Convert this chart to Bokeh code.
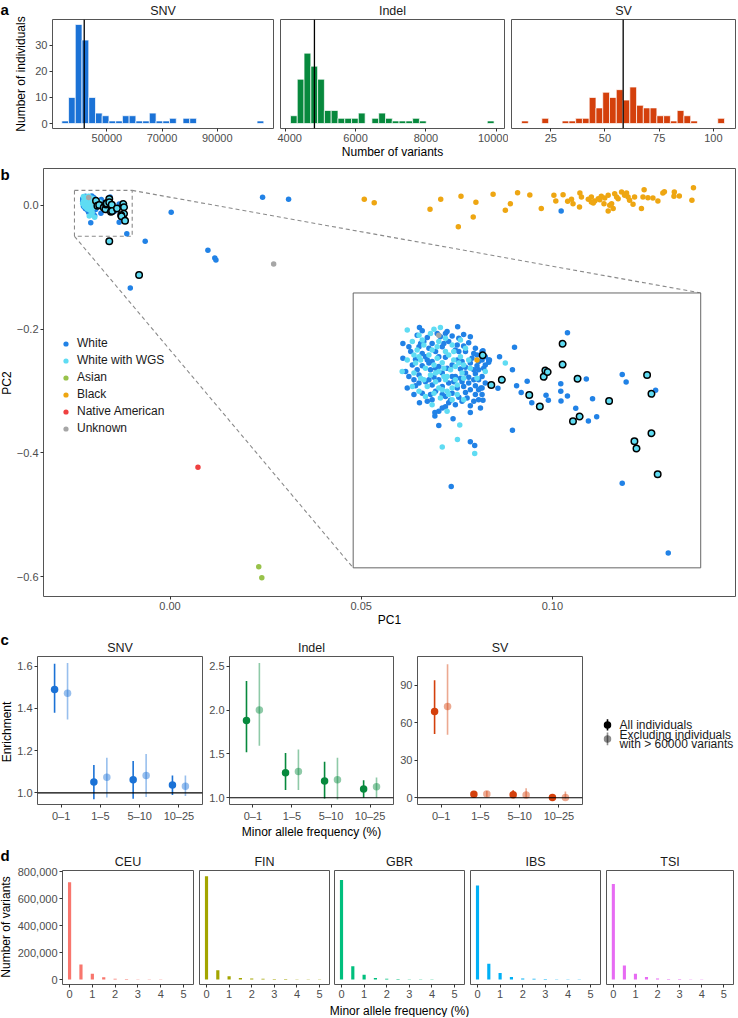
import numpy as np
from bokeh.plotting import figure
from bokeh.layouts import column, row
from bokeh.models import (Range1d, Span, FixedTicker, CustomJSTickFormatter,
                          NumeralTickFormatter, Legend, LegendItem, Div)
from bokeh.core.properties import value
from bokeh.embed import file_html
from bokeh.resources import INLINE

FONT = "Liberation Sans"

# ---------------- panel a data (histograms) ----------------
snv_bins = [34900, 37340, 39780, 42220, 44660, 47100, 49540, 51980, 54420, 56860,
            59300, 61740, 64180, 66620, 69060, 71500, 73940, 76380, 78820, 81260,
            83700, 86140, 88580, 91020, 93460, 95900, 98340, 100780, 103220, 105660]
snv_counts = [1, 10, 38, 32, 10, 4, 3, 1, 1, 3, 3, 1, 1, 4, 1, 1, 2, 0, 2, 2,
              0, 0, 0, 0, 0, 0, 0, 0, 0, 1]
indel_bins = [4245, 4438, 4631, 4824, 5017, 5210, 5403, 5596, 5789, 5982,
              6175, 6368, 6561, 6754, 6947, 7140, 7333, 7526, 7719, 7912,
              8105, 8298, 8491, 8684, 8877, 9070, 9263, 9456, 9649, 9842]
indel_counts = [3, 17, 27, 22, 17, 5, 5, 2, 2, 2, 4, 0, 2, 4, 2, 1, 1, 1, 2, 1,
                0, 0, 0, 0, 0, 0, 0, 0, 0, 1]
sv_bins = [13.10, 16.22, 19.34, 22.46, 25.58, 28.70, 31.82, 34.94, 38.06, 41.18,
           44.30, 47.42, 50.54, 53.66, 56.78, 59.90, 63.02, 66.14, 69.26, 72.38,
           75.50, 78.62, 81.74, 84.86, 87.98, 91.10, 94.22, 97.34, 100.46, 103.58]
sv_counts = [1, 0, 0, 2, 0, 0, 1, 1, 2, 2, 10, 6, 12, 10, 13, 9, 14, 7, 6, 6,
             3, 3, 1, 5, 3, 1, 0, 0, 0, 2]
bin_widths = [2440, 193, 3.12]
medians = [41800, 4830, 58.4]
var_types = ["SNV", "Indel", "SV"]
type_colors = ["#1b72d6", "#07893d", "#d4400c"]

# ---------------- panel b data (PCA) ----------------
white_pc1 = [-0.02212, -0.02046, -0.02200, -0.02092, -0.02135, -0.02222, -0.02020, -0.02178, -0.02070, -0.02041,
             -0.01998, -0.02284, -0.02157, -0.02085, -0.02193, -0.02020, -0.02214, -0.02113, -0.01969, -0.02056,
             -0.02171, -0.02142, -0.02012, -0.01940, -0.02284, -0.02229, -0.02186, -0.02099, -0.02048, -0.01911,
             -0.01955, -0.01911, -0.01984, -0.02157, -0.02243, -0.02200, -0.02128, -0.02070, -0.02012, -0.01962,
             -0.01933, -0.02034, -0.02164, -0.02272, -0.02214, -0.02113, -0.02056, -0.01969, -0.01940, -0.01998,
             -0.01955, -0.02149, -0.02265, -0.02186, -0.02085, -0.02027, -0.01969, -0.01940, -0.02113, -0.02229,
             -0.01998, -0.02200, -0.02142, -0.02070, -0.02012, -0.01969, -0.02099, -0.02164, -0.02041, -0.02212,
             -0.02056, -0.01991, -0.01947, -0.01936, -0.02113, -0.02099, -0.02027, -0.02145, -0.02145, -0.01991,
             -0.02066, -0.02128, -0.01991, -0.01972, -0.02258, -0.02121, -0.02171, -0.02092, -0.01991, -0.02034,
             -0.02128, -0.02236, -0.02048, -0.01991, -0.02157, -0.02077, -0.01955, -0.01926, -0.02012, -0.01962,
             -0.02041, -0.02222, -0.02070, -0.01976, -0.02200, -0.01940, -0.01926, -0.02128,
             -0.02250, -0.02207, -0.02106, -0.02048, -0.01976, -0.02178, -0.02027, -0.02142, -0.01976, -0.02258,
             -0.02171, -0.02063, -0.01976, -0.02214, -0.02157, -0.02020, -0.02113, -0.01940, -0.02178, -0.02005,
             -0.01955, -0.02085, -0.02128, -0.01955, -0.02099, -0.01991, -0.01926, -0.02236,
             -0.01864, -0.01908, -0.01871, -0.01808, -0.01799, -0.01790, -0.01770, -0.01744, -0.01724, -0.01662,
             -0.01652, -0.01598, -0.01598, -0.01597, -0.01569, -0.01569, -0.01533, -0.01487, -0.01478, -0.01460,
             -0.01442, -0.01331, -0.01314, -0.01186, -0.01808, -0.02074, -0.01331, -0.01131, -0.01936, -0.01945,
             0.0242, 0.0310, 0.0003, -0.0065, 0.0099, 0.0117, 0.0120, -0.0104, 0.1023]
white_pc2 = [0.0148, 0.0150, 0.0139, 0.0137, 0.0132, 0.0127, 0.0129, 0.0121, 0.0125, 0.0119,
             0.0107, 0.0105, 0.0105, 0.0110, 0.0110, 0.0098, 0.0096, 0.0096, 0.0092, 0.0087,
             0.0092, 0.0083, 0.0083, 0.0083, 0.0065, 0.0062, 0.0069, 0.0068, 0.0060, 0.0060,
             0.0056, 0.0054, 0.0065, 0.0056, 0.0047, 0.0045, 0.0043, 0.0047, 0.0041, 0.0045,
             0.0038, 0.0036, 0.0034, 0.0029, 0.0020, 0.0025, 0.0016, 0.0023, 0.0016, 0.0014,
             0.0007, 0.0014, -0.0015, 0.0002, -0.0002, 0.0002, -0.0009, -0.0015, -0.0011, -0.0009,
             -0.0002, -0.0029, -0.0024, -0.0029, -0.0027, -0.0033, -0.0038, -0.0033, -0.0040, -0.0055,
             -0.0060, -0.0063, -0.0069, -0.0048, -0.0069, -0.0066, -0.0051, -0.0081, -0.0091, -0.0081,
             -0.0098, -0.0116, -0.0160, -0.0170, 0.0096, 0.0123, 0.0052, 0.0038, 0.0052, 0.0011,
             0.0007, 0.0007, -0.0015, -0.0020, -0.0047, -0.0048, 0.0034, -0.0002, 0.0025, 0.0074,
             0.0083, 0.0034, 0.0016, -0.0051, 0.0078, 0.0060, 0.0047, 0.0069,
             0.0083, 0.0105, 0.0105, 0.0101, 0.0078, 0.0060, 0.0056, 0.0038, 0.0034, 0.0016,
             0.0007, 0.0002, 0.0007, -0.0002, -0.0007, -0.0011, -0.0033, -0.0033, -0.0051, -0.0042,
             -0.0047, -0.0055, -0.0078, -0.0020, 0.0132, 0.0123, 0.0069, -0.0033,
             0.0069, 0.0060, -0.0016, 0.0034, 0.0095, -0.0009, -0.0027, 0.0003, -0.0055, -0.0035,
             -0.0048, -0.0004, -0.0024, -0.0050, 0.0134, -0.0037, -0.0070, 0.0009, -0.0104, -0.0044,
             -0.0093, 0.0021, 0.0001, -0.0021, -0.0129, -0.0281, -0.0272, -0.0460, 0.0085, -0.0015,
             0.0129, 0.0097, -0.0113, -0.0580, -0.0724, -0.0853, -0.0885, -0.1336, -0.0091]
wgs_pc1 = [-0.02265, -0.02149, -0.02121, -0.02214, -0.02164, -0.02099, -0.02243, -0.02193, -0.02128, -0.02070,
           -0.02034, -0.02222, -0.02157, -0.02099, -0.02012, -0.02265, -0.02236, -0.02171, -0.02135, -0.02085,
           -0.02034, -0.01998, -0.02229, -0.02186, -0.02149, -0.02113, -0.02077, -0.02041, -0.01991, -0.02287,
           -0.02236, -0.02164, -0.02128, -0.02092, -0.02027, -0.02193, -0.02142, -0.02099, -0.02048, -0.02020,
           -0.02243, -0.02178, -0.02128, -0.02070, -0.02149, -0.02092, -0.02048, -0.02186, -0.02121, -0.02020,
           -0.02092, -0.02037, -0.02047, -0.02113, -0.01972, -0.01839, -0.01926, -0.02070, -0.02113, -0.02207,
           -0.02063, -0.02106, -0.02142, -0.02056, -0.02214, -0.01962,
           -0.02200, -0.02135, -0.02063, -0.02214, -0.02020, -0.02106, -0.02207, -0.02085, -0.02157, -0.02056]
wgs_pc2 = [0.0141, 0.0143, 0.0148, 0.0127, 0.0132, 0.0119, 0.0110, 0.0101, 0.0110, 0.0101,
           0.0114, 0.0087, 0.0087, 0.0083, 0.0092, 0.0060, 0.0074, 0.0074, 0.0065, 0.0074,
           0.0069, 0.0060, 0.0052, 0.0038, 0.0047, 0.0053, 0.0034, 0.0052, 0.0038, 0.0029,
           0.0025, 0.0020, 0.0029, 0.0016, 0.0025, 0.0007, 0.0002, 0.0007, -0.0007, 0.0011,
           -0.0011, -0.0011, -0.0015, -0.0015, -0.0029, -0.0024, -0.0033, -0.0038, -0.0042, -0.0047,
           -0.0078, -0.0115, -0.0154, -0.0174, -0.0192, 0.0052, 0.0029, -0.0047, -0.0020, 0.0060,
           0.0060, 0.0038, 0.0025, 0.0007, -0.0024, 0.0011,
           0.0114, 0.0096, 0.0083, 0.0069, 0.0047, 0.0016, 0.0011, -0.0033, -0.0060, 0.0043]
# WGS individuals highlighted with a black outline
wgs_hi_pc1 = [-0.01937, -0.01900, -0.01854, -0.01735, -0.01689, -0.01672, -0.01665, -0.01655, -0.01590, -0.01590,
              -0.01525, -0.01545, -0.01516, -0.01388, -0.01223, -0.01204, -0.01204, -0.01278, -0.01269, -0.01177,
              -0.0159, -0.0081]
wgs_hi_pc2 = [0.0073, -0.0007, 0.0007, -0.0034, -0.0065, 0.0015, 0.0032, 0.0028, 0.0104, 0.0048,
              0.0010, -0.0105, -0.0092, -0.0050, 0.0020, -0.0031, -0.0137, -0.0159, -0.0178, -0.0248,
              -0.0580, -0.1126]
black_pc1 = [0.0508, 0.0534, 0.0680, 0.0708, 0.0761, 0.0800, 0.0754, 0.0793, 0.0845, 0.0877,
             0.0890, 0.0909, 0.0941, 0.0971, 0.1004, 0.1009, 0.1028, 0.1040, 0.1050, 0.1072,
             0.1071, 0.1076, 0.1094, 0.1102, 0.1111, 0.1120, 0.1128, 0.1137, 0.1146, 0.1155,
             0.1159, 0.1146, 0.1163, 0.1172, 0.1181, 0.1189, 0.1194, 0.1202, 0.1211, 0.1233,
             0.1240, 0.1237, 0.1250, 0.1263, 0.1276, 0.1289, 0.1293, 0.1319, 0.1318, 0.1332,
             0.1365, 0.1369, 0.1107, 0.1135, 0.1150, 0.1168, 0.1198, 0.1215, 0.1124, 0.1054,
             0.1102, -0.01962]
black_pc2 = [0.0097, 0.0043, -0.0064, 0.0097, 0.0145, 0.0049, -0.0348, -0.0187, 0.0177, -0.0080,
             0.0027, 0.0204, 0.0167, -0.0053, 0.0161, 0.0070, 0.0172, 0.0065, 0.0097, 0.0199,
             -0.0026, 0.0135, 0.0097, 0.0135, 0.0070, 0.0108, 0.0145, 0.0119, 0.0161, 0.0027,
             -0.0053, -0.0091, 0.0188, 0.0108, 0.0215, 0.0161, 0.0199, 0.0081, 0.0017, -0.0053,
             0.0253, 0.0135, 0.0124, 0.0119, 0.0070, 0.0199, 0.0220, 0.0215, 0.0145, 0.0151,
             0.0081, 0.0285, 0.0038, 0.0027, 0.0001, 0.0135, 0.0135, 0.0135, 0.0092, 0.0027,
             0.0054, 0.0060]
asian_pc1 = [0.0232, 0.0240]
asian_pc2 = [-0.5840, -0.6018]
native_pc1 = [0.0073]
native_pc2 = [-0.4232]
unknown_pc1 = [0.0271, -0.02128]
unknown_pc2 = [-0.0949, 0.0127]
groups = ["White", "White with WGS", "Asian", "Black", "Native American", "Unknown"]
group_colors = ["#2182e6", "#5fdcf3", "#98c24a", "#eea612", "#ef4040", "#a6a6a6"]

# ---------------- panel c data (enrichment) ----------------
maf_bins = ["0\u20131", "1\u20135", "5\u201310", "10\u201325"]
snv_all = [1.490, 1.052, 1.062, 1.037]
snv_all_lo = [1.379, 0.970, 0.972, 0.990]
snv_all_hi = [1.612, 1.132, 1.151, 1.082]
snv_ex = [1.472, 1.074, 1.082, 1.032]
snv_ex_lo = [1.348, 0.978, 0.980, 0.985]
snv_ex_hi = [1.615, 1.166, 1.184, 1.082]
indel_all = [1.88, 1.284, 1.190, 1.100]
indel_all_lo = [1.52, 1.088, 0.990, 1.000]
indel_all_hi = [2.33, 1.511, 1.410, 1.200]
indel_ex = [2.00, 1.298, 1.206, 1.125]
indel_ex_lo = [1.593, 1.088, 0.980, 1.000]
indel_ex_hi = [2.535, 1.549, 1.456, 1.230]
sv_all = [69.0, 2.8, 2.5, 0.2]
sv_all_lo = [51.0, 0.5, 0.3, -1.0]
sv_all_hi = [94.1, 5.0, 6.0, 1.5]
sv_ex = [73.1, 3.0, 2.2, 0.3]
sv_ex_lo = [50.5, 0.8, 0.0, -0.5]
sv_ex_hi = [106.9, 5.5, 7.7, 5.0]

# ---------------- panel d data (MAF spectra) ----------------
maf_pct = [0, 0.5, 1, 1.5, 2, 2.5, 3, 3.5, 4, 4.5, 5]
populations = ["CEU", "FIN", "GBR", "IBS", "TSI"]
pop_colors = ["#F8766D", "#A3A500", "#00BF7D", "#00B0F6", "#E76BF3"]
ceu_counts = [720000, 111000, 43500, 17000, 5000, 3500, 2500, 1800, 1200, 800, 500]
fin_counts = [765000, 68000, 24000, 12000, 7000, 5000, 4000, 3000, 2500, 2000, 1500]
gbr_counts = [738000, 99000, 36000, 12000, 5000, 3500, 2500, 1800, 1200, 800, 500]
ibs_counts = [696000, 116000, 48000, 19000, 7000, 5000, 3000, 2200, 1500, 1000, 600]
tsi_counts = [708000, 104000, 43500, 19000, 7000, 4500, 3000, 2000, 1300, 900, 600]
pop_counts = [ceu_counts, fin_counts, gbr_counts, ibs_counts, tsi_counts]

# ---------------- layout helpers ----------------
SX = 737 / 738
SY = 1017 / 1018


def hx(a, b):
    return round(b * SX) - round(a * SX)


def vy(a, b):
    return round(b * SY) - round(a * SY)


def style_axes(p):
    for ax in p.axis:
        ax.axis_line_color = None
        ax.major_tick_line_color = "#333333"
        ax.major_tick_in = 0
        ax.major_tick_out = 3
        ax.minor_tick_line_color = None
        ax.major_label_text_font = FONT
        ax.major_label_text_font_size = "11px"
        ax.major_label_text_color = "#4d4d4d"
        ax.major_label_standoff = 2
        ax.axis_label_text_font = FONT
        ax.axis_label_text_font_size = "12px"
        ax.axis_label_text_font_style = "normal"
        ax.axis_label_text_color = "black"
        ax.axis_label_standoff = 0


def mkfig(cx, cy, fx, fy, xr, yr):
    p = figure(width=hx(cx[0], cx[1]), height=vy(cy[0], cy[1]), x_range=xr, y_range=yr,
               output_backend="svg", toolbar_location=None,
               min_border_left=hx(cx[0], fx[0]), min_border_right=hx(fx[1], cx[1]),
               min_border_top=vy(cy[0], fy[0]), min_border_bottom=vy(fy[1], cy[1]))
    p.xgrid.visible = False
    p.ygrid.visible = False
    p.outline_line_color = "#555555"
    p.outline_line_width = 1
    p.background_fill_color = "white"
    p.border_fill_color = "white"
    style_axes(p)
    return p


def set_title(p, txt):
    p.title.text = txt
    p.title.align = "center"
    p.title.text_font = FONT
    p.title.text_font_size = "12.5px"
    p.title.text_font_style = "normal"
    p.title.text_color = "#1a1a1a"
    p.title.standoff = 3


def gutter(cx, cy, items):
    """Narrow HTML strip with the panel letter and the shared vertical axis title."""
    w, h = hx(*cx), vy(*cy)
    parts = []
    for x, y, txt, kind in items:
        X = (x - cx[0]) * SX
        Y = (y - cy[0]) * SY
        if kind == "letter":
            parts.append(
                f'<div style="position:absolute;left:{X:.1f}px;top:{Y:.1f}px;transform:translateY(-50%);'
                f'font-family:\'{FONT}\',sans-serif;font-weight:bold;font-size:15px;line-height:15px;'
                f'color:#000;white-space:nowrap;">{txt}</div>')
        else:
            parts.append(
                f'<div style="position:absolute;left:{X:.1f}px;top:{Y:.1f}px;'
                f'transform:translate(-50%,-50%) rotate(-90deg);font-family:\'{FONT}\',sans-serif;'
                f'font-size:12px;line-height:14px;color:#000;white-space:nowrap;">{txt}</div>')
    html = (f'<div style="position:relative;width:{w}px;height:{h}px;overflow:visible;">'
            + "".join(parts) + "</div>")
    return Div(text=html, width=w, height=h, margin=0)


one_dec = CustomJSTickFormatter(code="return tick.toFixed(1);")

# ================= ROW A =================
A_Y, A_FY = (0, 161), (17, 129)
a_cx = [(11, 277), (277, 509), (509, 738)]
a_fx = [(48, 273), (280, 505), (512, 736)]
a_xr = [(30300, 110400), (3865, 10235), (6.9, 110.2)]
a_ticks = [[50000, 70000, 90000], [4000, 6000, 8000, 10000], [25, 50, 75, 100]]
a_bins = [snv_bins, indel_bins, sv_bins]
a_counts = [snv_counts, indel_counts, sv_counts]
row_a = [gutter((0, 11), A_Y, [(0.5, 8.5, "a", "letter")])]
for i in range(3):
    p = mkfig(a_cx[i], A_Y, a_fx[i], A_FY, Range1d(*a_xr[i]), Range1d(-1.9, 39.9))
    set_title(p, var_types[i])
    p.vbar(x=a_bins[i], top=a_counts[i], bottom=0, width=bin_widths[i],
           fill_color=type_colors[i], line_color="white", line_width=0.7)
    p.add_layout(Span(location=medians[i], dimension="height", line_color="black", line_width=1.3))
    p.xaxis.ticker = FixedTicker(ticks=a_ticks[i])
    p.yaxis.ticker = FixedTicker(ticks=[0, 10, 20, 30])
    if i == 0:
        p.yaxis.axis_label = "Number of individuals"
        p.yaxis.axis_label_standoff = 4
    else:
        p.yaxis.visible = False
    if i == 1:
        p.xaxis.axis_label = "Number of variants"
    row_a.append(p)

# ================= ROW B =================
B_Y, B_FY = (161, 630), (168, 598)
strip_b = gutter((0, 13), B_Y, [(0.5, 174, "b", "letter"), (6.5, 383, "PC2", "vlabel")])
pb = mkfig((13, 738), B_Y, (43, 736), B_FY, Range1d(-0.0331, 0.1479), Range1d(-0.632, 0.0595))
pb.xaxis.axis_label = "PC1"
pb.xaxis.ticker = FixedTicker(ticks=[0.0, 0.05, 0.10])
pb.yaxis.ticker = FixedTicker(ticks=[-0.6, -0.4, -0.2, 0.0])
pb.xaxis.formatter = CustomJSTickFormatter(code="return tick.toFixed(2);")
pb.yaxis.formatter = CustomJSTickFormatter(
    code="return (tick < -1e-9 ? '\u2212' : '') + Math.abs(tick).toFixed(1);")

# zoom window and inset placement (in PC units)
ZX0, ZX1, ZY0, ZY1 = -0.0250, -0.0099, -0.0500, 0.0241
IX0, IX1, IY0, IY1 = 0.0479, 0.1388, -0.5857, -0.1416


def to_inset(x, y):
    x = np.asarray(x, dtype=float)
    y = np.asarray(y, dtype=float)
    m = (x >= ZX0) & (x <= ZX1) & (y >= ZY0) & (y <= ZY1)
    return (IX0 + (x[m] - ZX0) / (ZX1 - ZX0) * (IX1 - IX0),
            IY0 + (y[m] - ZY0) / (ZY1 - ZY0) * (IY1 - IY0))


pb.quad(left=[ZX0], right=[ZX1], bottom=[ZY0], top=[ZY1], fill_color=None,
        line_color="#8a8a8a", line_dash="4 3", line_width=1.1)
pb.segment(x0=[ZX1, ZX0], y0=[ZY1, ZY0], x1=[IX1, IX0], y1=[IY1, IY0],
           line_color="#8a8a8a", line_dash="4 3", line_width=1.1)

pc1_sets = [white_pc1, wgs_pc1, asian_pc1, black_pc1, native_pc1, unknown_pc1]
pc2_sets = [white_pc2, wgs_pc2, asian_pc2, black_pc2, native_pc2, unknown_pc2]
DOT = 5.5
main_r = []
for xs, ys, c in zip(pc1_sets, pc2_sets, group_colors):
    main_r.append(pb.scatter(xs, ys, size=DOT, fill_color=c, line_color=None))
pb.scatter(wgs_hi_pc1, wgs_hi_pc2, size=6.5, fill_color=group_colors[1], line_color="black", line_width=1.5)

# inset (zoomed view of the dashed window)
pb.quad(left=[IX0], right=[IX1], bottom=[IY0], top=[IY1], fill_color="white",
        line_color="#666666", line_width=1)
for xs, ys, c in zip(pc1_sets, pc2_sets, group_colors):
    ix, iy = to_inset(xs, ys)
    pb.scatter(ix, iy, size=DOT, fill_color=c, line_color=None)
ix, iy = to_inset(wgs_hi_pc1, wgs_hi_pc2)
pb.scatter(ix, iy, size=6.5, fill_color=group_colors[1], line_color="black", line_width=1.5)

leg_b = Legend(items=[LegendItem(label=g, renderers=[r]) for g, r in zip(groups, main_r)],
               location=(11, 156),
               glyph_width=13, glyph_height=13, label_height=13, spacing=3, padding=5, margin=0,
               label_standoff=5, label_text_font=FONT, label_text_font_size="12px",
               label_text_color="#1a1a1a", background_fill_alpha=0, border_line_alpha=0)
pb.add_layout(leg_b)
row_b = [strip_b, pb]

# ================= ROW C =================
C_Y, C_FY = (630, 842), (657, 810)
c_cx = [(13, 205), (205, 398), (398, 588)]
c_fx = [(37, 202), (229, 394), (418, 583)]
c_yr = [(0.945, 1.646), (0.923, 2.61), (-5.4, 113.0)]
c_yt = [[1.0, 1.2, 1.4, 1.6], [1.0, 1.5, 2.0, 2.5], [0, 30, 60, 90]]
c_ref = [1.0, 1.0, 0.0]
c_data = [
    (snv_all, snv_all_lo, snv_all_hi, snv_ex, snv_ex_lo, snv_ex_hi),
    (indel_all, indel_all_lo, indel_all_hi, indel_ex, indel_ex_lo, indel_ex_hi),
    (sv_all, sv_all_lo, sv_all_hi, sv_ex, sv_ex_lo, sv_ex_hi),
]
cat_x = np.arange(1, len(maf_bins) + 1)
DODGE = 0.165
row_c = [gutter((0, 13), C_Y, [(0.5, 640, "c", "letter"), (6.5, 733, "Enrichment", "vlabel")])]
for i in range(3):
    p = mkfig(c_cx[i], C_Y, c_fx[i], C_FY, Range1d(0.4, 4.6), Range1d(*c_yr[i]))
    set_title(p, var_types[i])
    p.add_layout(Span(location=c_ref[i], dimension="width", line_color="black", line_width=1.2))
    a, alo, ahi, e, elo, ehi = c_data[i]
    col = type_colors[i]
    p.segment(x0=cat_x - DODGE, x1=cat_x - DODGE, y0=alo, y1=ahi, line_color=col, line_width=1.6)
    p.scatter(cat_x - DODGE, a, size=7.5, fill_color=col, line_color=None)
    p.segment(x0=cat_x + DODGE, x1=cat_x + DODGE, y0=elo, y1=ehi, line_color=col, line_width=1.6,
              line_alpha=0.45)
    p.scatter(cat_x + DODGE, e, size=7.5, fill_color=col, fill_alpha=0.45, line_color=None)
    p.xaxis.ticker = FixedTicker(ticks=list(cat_x))
    p.xaxis.major_label_overrides = {int(k): lab for k, lab in zip(cat_x, maf_bins)}
    p.yaxis.ticker = FixedTicker(ticks=c_yt[i])
    if i < 2:
        p.yaxis.formatter = one_dec
    if i == 1:
        p.xaxis.axis_label = "Minor allele frequency (%)"
    row_c.append(p)

# legend of panel c
pl = figure(width=hx(588, 738), height=vy(630, 842), x_range=Range1d(588, 738), y_range=Range1d(842, 630),
            output_backend="svg", toolbar_location=None, min_border=0)
pl.axis.visible = False
pl.xgrid.visible = False
pl.ygrid.visible = False
pl.outline_line_color = None
pl.segment(x0=[608, 608], x1=[608, 608], y0=[720, 739], y1=[736, 757], line_color="black",
           line_alpha=[1.0, 0.45], line_width=1.6)
pl.scatter([608, 608], [728, 748], size=7.5, fill_color="black", fill_alpha=[1.0, 0.45], line_color=None)
pl.text(x=[620, 620, 620], y=[728, 742, 755],
        text=["All individuals", "Excluding individuals", "with > 60000 variants"],
        text_baseline="middle", text_align="left", text_font=value(FONT), text_font_size="12px",
        text_color="#1a1a1a")
row_c.append(pl)

# ================= ROW D =================
D_Y, D_FY = (842, 1004), (871, 985)
d_cx = [(14, 196), (196, 331), (331, 468), (468, 604), (604, 738)]
d_fx = [(62, 193), (199, 329), (334, 465), (471, 601), (607, 734)]
row_d = [gutter((0, 14), D_Y, [(0.5, 856, "d", "letter"), (6, 928, "Number of variants", "vlabel")])]
for i in range(5):
    p = mkfig(d_cx[i], D_Y, d_fx[i], D_FY, Range1d(-0.31, 5.44), Range1d(-37000, 808000))
    set_title(p, populations[i])
    p.vbar(x=maf_pct, top=pop_counts[i], bottom=0, width=0.14, fill_color=pop_colors[i], line_color=None)
    p.xaxis.ticker = FixedTicker(ticks=[0, 1, 2, 3, 4, 5])
    p.yaxis.ticker = FixedTicker(ticks=[0, 200000, 400000, 600000, 800000])
    p.yaxis.formatter = NumeralTickFormatter(format="0,0")
    if i > 0:
        p.yaxis.visible = False
    row_d.append(p)

# shared x-axis title of panel d
strip_d = figure(width=hx(0, 738), height=vy(1004, 1018), x_range=Range1d(0, 738), y_range=Range1d(0, 14),
                 output_backend="svg", toolbar_location=None, min_border=0)
strip_d.axis.visible = False
strip_d.xgrid.visible = False
strip_d.ygrid.visible = False
strip_d.outline_line_color = None
strip_d.text(x=[399.5], y=[7], text=["Minor allele frequency (%)"], text_align="center",
             text_baseline="middle", text_font=value(FONT), text_font_size="12px", text_color="black")

layout = column(row(*row_a), row(*row_b), row(*row_c), row(*row_d), strip_d)
open("out.html", "w").write(file_html(layout, INLINE))
